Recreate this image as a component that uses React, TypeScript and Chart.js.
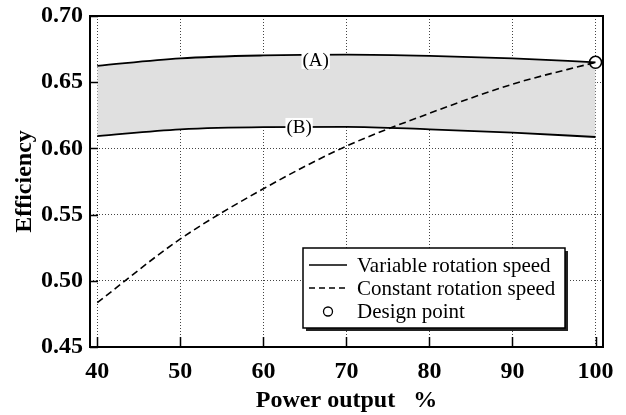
import React, { useEffect, useRef } from 'react';
import { Chart, registerables } from 'chart.js';

Chart.register(...registerables);

// ---- data ----
const powerOutput = [40, 50, 60, 70, 80, 90, 100];
const variableA = [0.6624, 0.668, 0.6702, 0.6708, 0.6699, 0.668, 0.665];
const variableB = [0.6093, 0.6144, 0.6161, 0.6163, 0.6144, 0.6119, 0.6086];
const constantSpeed = [0.4836, 0.5316, 0.5695, 0.6017, 0.6265, 0.6485, 0.665];
const designX = [100];
const designY = [0.665];
const xTickValues = [40, 50, 60, 70, 80, 90, 100];
const yTickValues = [0.45, 0.5, 0.55, 0.6, 0.65, 0.7];
const curveLabelText = ['(A)', '(B)'];
const curveLabelX = [66.3, 64.3];
const curveLabelY = [0.6706, 0.6162];
const legendLabels = ['Variable rotation speed', 'Constant rotation speed', 'Design point'];
const xTitle = 'Power output   %';
const yTitle = 'Efficiency';

const SERIF = '"Liberation Serif", "Times New Roman", serif';

const overlayPlugin = {
  id: 'overlay',
  afterDatasetsDraw(chart: any) {
    const ctx = chart.ctx;
    const xs = chart.scales.x;
    const ys = chart.scales.y;
    ctx.save();
    ctx.font = `19px ${SERIF}`;
    ctx.textAlign = 'center';
    ctx.textBaseline = 'middle';
    curveLabelText.forEach((t, i) => {
      const px = xs.getPixelForValue(curveLabelX[i]);
      const py = ys.getPixelForValue(curveLabelY[i]) + (i === 0 ? 5 : 0);
      const w = ctx.measureText(t).width;
      ctx.fillStyle = '#ffffff';
      ctx.fillRect(px - w / 2 - 1, py - 9, w + 2, 18);
      ctx.fillStyle = '#000';
      ctx.fillText(t, px, py + 1);
    });
    ctx.restore();
  },
  afterDraw(chart: any) {
    const ctx = chart.ctx;
    const { left, right, top, bottom } = chart.chartArea;
    const xs = chart.scales.x;
    const ys = chart.scales.y;
    ctx.save();
    // frame
    ctx.strokeStyle = '#000';
    ctx.lineWidth = 2;
    ctx.strokeRect(left, top, right - left, bottom - top);
    // inward ticks
    ctx.lineWidth = 1.5;
    ctx.beginPath();
    xTickValues.forEach((v) => {
      const px = Math.round(xs.getPixelForValue(v)) + 0.5;
      ctx.moveTo(px, bottom);
      ctx.lineTo(px, bottom - 10);
    });
    yTickValues.forEach((v) => {
      const py = Math.round(ys.getPixelForValue(v)) + 0.5;
      ctx.moveTo(left, py);
      ctx.lineTo(left + 8, py);
    });
    ctx.stroke();

    // legend
    const bx = left + 213;
    const by = top + 232;
    const bw = 262;
    const bh = 80;
    ctx.fillStyle = '#222';
    ctx.fillRect(bx + 3, by + 3, bw, bh);
    ctx.fillStyle = '#fff';
    ctx.fillRect(bx, by, bw, bh);
    ctx.strokeStyle = '#000';
    ctx.lineWidth = 1.5;
    ctx.strokeRect(bx, by, bw, bh);

    const rowY = [by + 17, by + 40, by + 63.5];
    const sx0 = bx + 6;
    const sx1 = bx + 44;
    ctx.lineWidth = 1.6;
    ctx.beginPath();
    ctx.moveTo(sx0, rowY[0]);
    ctx.lineTo(sx1, rowY[0]);
    ctx.stroke();
    ctx.setLineDash([6, 4]);
    ctx.lineWidth = 1.4;
    ctx.beginPath();
    ctx.moveTo(sx0, rowY[1]);
    ctx.lineTo(sx1, rowY[1]);
    ctx.stroke();
    ctx.setLineDash([]);
    ctx.lineWidth = 1.3;
    ctx.beginPath();
    ctx.arc((sx0 + sx1) / 2, rowY[2], 4.5, 0, Math.PI * 2);
    ctx.fillStyle = '#fff';
    ctx.fill();
    ctx.stroke();

    ctx.fillStyle = '#000';
    ctx.font = `21px ${SERIF}`;
    ctx.textAlign = 'left';
    ctx.textBaseline = 'middle';
    legendLabels.forEach((t, i) => {
      ctx.fillText(t, bx + 54, rowY[i] + 1);
    });
    ctx.restore();
  },
};

export default function App() {
  const canvasRef = useRef<HTMLCanvasElement | null>(null);

  useEffect(() => {
    const canvas = canvasRef.current;
    if (!canvas) return;
    const tickFont = { family: SERIF, size: 24, weight: 'bold' as const };
    const chart = new Chart(canvas, {
      type: 'line',
      data: {
        datasets: [
          {
            label: 'A',
            data: powerOutput.map((x, i) => ({ x, y: variableA[i] })),
            borderColor: '#000',
            borderWidth: 1.8,
            pointRadius: 0,
            cubicInterpolationMode: 'monotone',
            fill: '+1',
            backgroundColor: '#e0e0e0',
          },
          {
            label: 'B',
            data: powerOutput.map((x, i) => ({ x, y: variableB[i] })),
            borderColor: '#000',
            borderWidth: 1.8,
            pointRadius: 0,
            cubicInterpolationMode: 'monotone',
            fill: false,
          },
          {
            label: 'Constant rotation speed',
            data: powerOutput.map((x, i) => ({ x, y: constantSpeed[i] })),
            borderColor: '#000',
            borderWidth: 1.6,
            borderDash: [7, 4],
            pointRadius: 0,
            cubicInterpolationMode: 'monotone',
            fill: false,
          },
          {
            label: 'Design point',
            data: designX.map((x, i) => ({ x, y: designY[i] })),
            showLine: false,
            pointRadius: 6,
            pointBackgroundColor: '#fff',
            pointBorderColor: '#000',
            pointBorderWidth: 1.5,
            borderColor: '#000',
            backgroundColor: '#fff',
          },
        ],
      },
      options: {
        responsive: false,
        animation: false,
        layout: { padding: { top: 16, right: 23, left: 0, bottom: 0 } },
        plugins: {
          legend: { display: false },
          tooltip: { enabled: false },
          filler: { drawTime: 'beforeDatasetsDraw' },
        },
        scales: {
          x: {
            type: 'linear',
            min: 39.12,
            max: 100.9,
            afterBuildTicks: (scale: any) => {
              scale.ticks = xTickValues.map((v) => ({ value: v }));
            },
            afterFit: (scale: any) => {
              scale.height = 68;
              scale.paddingLeft = 0;
              scale.paddingRight = 0;
            },
            grid: { color: '#444', lineWidth: 1, drawTicks: false },
            border: { display: false, dash: [1, 2] },
            ticks: {
              color: '#000',
              font: tickFont,
              padding: 10,
              maxRotation: 0,
              callback: (v: any) => String(v),
            },
            title: {
              display: true,
              text: xTitle,
              color: '#000',
              font: tickFont,
              padding: { top: 0, bottom: 0 },
            },
          },
          y: {
            type: 'linear',
            min: 0.45,
            max: 0.7,
            afterBuildTicks: (scale: any) => {
              scale.ticks = yTickValues.map((v) => ({ value: v }));
            },
            afterFit: (scale: any) => {
              scale.width = 90;
              scale.paddingTop = 0;
              scale.paddingBottom = 0;
            },
            grid: { color: '#444', lineWidth: 1, drawTicks: false },
            border: { display: false, dash: [1, 2] },
            ticks: {
              color: '#000',
              font: tickFont,
              padding: 7,
              callback: (v: any) => Number(v).toFixed(2),
            },
            title: {
              display: true,
              text: yTitle,
              color: '#000',
              font: tickFont,
              padding: { top: 10, bottom: 0 },
            },
          },
        },
      },
      plugins: [overlayPlugin],
    } as any);
    return () => chart.destroy();
  }, []);

  return (
    <div style={{ position: 'absolute', left: 0, top: 0, width: 626, height: 415, background: '#fff' }}>
      <canvas ref={canvasRef} width={626} height={415} />
    </div>
  );
}
